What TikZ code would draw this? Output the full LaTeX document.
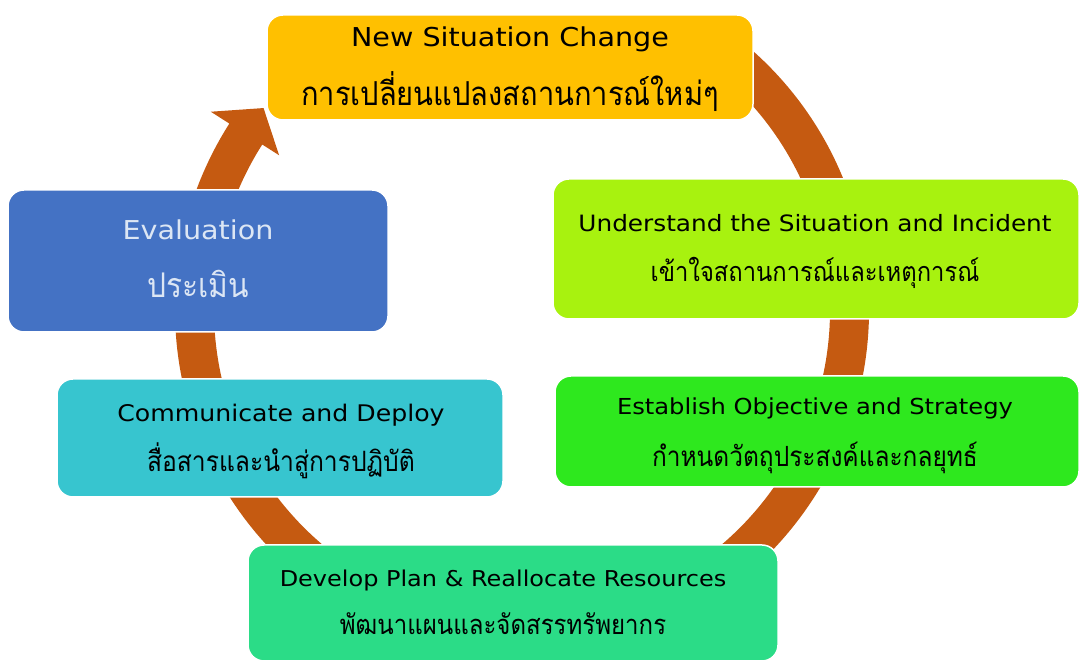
\documentclass[tikz,border=0pt]{standalone}
\usepackage{fontspec}
\setmainfont{DejaVu Sans}[FakeStretch=1.1]
\newfontfamily\thai[Script=Thai,FakeStretch=0.88]{Loma}
\definecolor{ringc}{HTML}{C55A11}
\definecolor{cyel}{HTML}{FFC000}
\definecolor{cblue}{HTML}{4472C4}
\definecolor{clime}{HTML}{A8F20F}
\definecolor{cgreen}{HTML}{2EE81E}
\definecolor{cteal}{HTML}{37C5CF}
\definecolor{cmint}{HTML}{2BDC87}
\definecolor{evtext}{HTML}{DCE6F4}
\tikzset{
  box/.style={draw=white, line width=1.5pt, rounded corners=16pt, inner sep=0pt},
  en/.style={anchor=base, inner sep=0pt, font=\fontsize{#1}{#1}\selectfont},
  th/.style={anchor=base, inner sep=0pt, font=\thai\fontsize{#1}{#1}\selectfont},
}
\begin{document}
\begin{tikzpicture}[x=1pt,y=1pt]
\useasboundingbox (0,0) rectangle (1081,663);
% ring with arrow
\begin{scope}[shift={(522,353)}]
\fill[ringc] (53:347) arc[start angle=53, end angle=-212.5, radius=347]
  -- (-212.5:369) -- (-218:328) -- (-212.5:288) -- (-212.5:308)
  arc[start angle=-212.5, end angle=53, radius=308] -- cycle;
\end{scope}
% boxes
\node[box, fill=cyel, minimum width=486, minimum height=105] (b1) at (510,595.5) {};
\node[box, fill=clime, minimum width=526, minimum height=140] (b2) at (816,414) {};
\node[box, fill=cgreen, minimum width=524, minimum height=111] (b3) at (817,231.5) {};
\node[box, fill=cmint, minimum width=530, minimum height=116] (b4) at (513,60) {};
\node[box, fill=cteal, minimum width=446, minimum height=118] (b5) at (280,225) {};
\node[box, fill=cblue, minimum width=380, minimum height=142] (b6) at (198,402) {};
% texts
\node[en=26] (t1a) at (510,616) {New Situation Change};
\node[th=33] (t1b) at (510,557) {การเปลี่ยนแปลงสถานการณ์ใหม่ๆ};
\node[en=22.5] (t2a) at (815,431) {Understand the Situation and Incident};
\node[th=27] (t2b) at (815,381) {เข้าใจสถานการณ์และเหตุการณ์};
\node[en=22] (t3a) at (815,248) {Establish Objective and Strategy};
\node[th=27.8] (t3b) at (815,196) {กำหนดวัตถุประสงค์และกลยุทธ์};
\node[en=21.8] (t4a) at (503,76) {Develop Plan \& Reallocate Resources};
\node[th=27.3] (t4b) at (503,28) {พัฒนาแผนและจัดสรรทรัพยากร};
\node[en=22.9] (t5a) at (281,241) {Communicate and Deploy};
\node[th=28] (t5b) at (281,191) {สื่อสารและนำสู่การปฏิบัติ};
\node[en=26, text=evtext] (t6a) at (198,423) {Evaluation};
\node[th=34, text=evtext] (t6b) at (198,365) {ประเมิน};
\end{tikzpicture}
\end{document}
